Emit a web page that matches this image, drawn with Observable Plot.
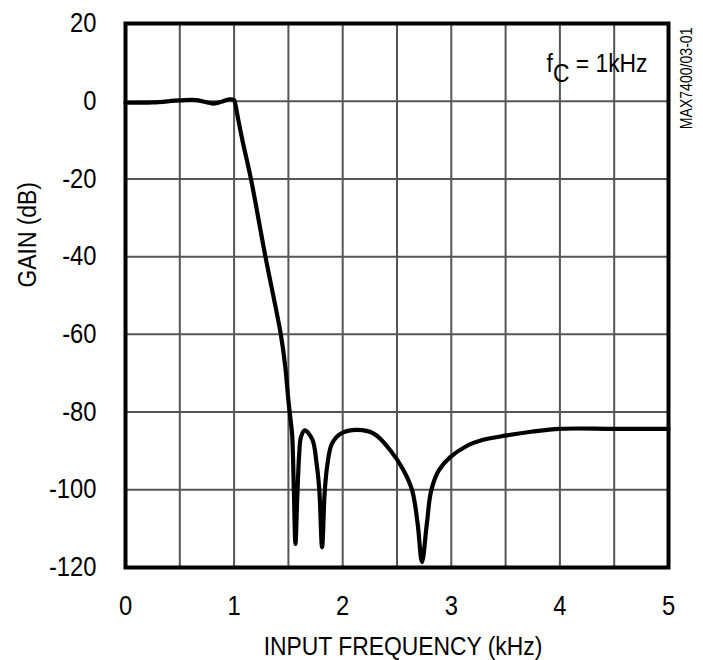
<!DOCTYPE html>
<html>
<head>
<meta charset="utf-8">
<script src="https://cdn.jsdelivr.net/npm/d3@7"></script>
<script src="https://cdn.jsdelivr.net/npm/@observablehq/plot@0.6"></script>
<style>
  html, body { margin: 0; padding: 0; background: #fff; }
  #chart { width: 703px; height: 660px; }
</style>
</head>
<body>
<div id="chart"></div>
<script>
// Frequency (kHz) and gain (dB)
const freqKHz = [0, 0.25, 0.5, 0.65, 0.81, 0.9, 0.96, 1.0, 1.01, 1.04, 1.08, 1.155, 1.29, 1.43, 1.47, 1.5, 1.52, 1.535, 1.55, 1.565, 1.58, 1.59, 1.60, 1.615, 1.65, 1.72, 1.76, 1.785, 1.81, 1.835, 1.86, 1.9, 1.98, 2.13, 2.29, 2.44, 2.56, 2.64, 2.69, 2.73, 2.775, 2.815, 2.885, 2.99, 3.15, 3.27, 3.51, 3.75, 4.0, 4.5, 5.0];
const gainDB = [-0.4, -0.3, 0.2, 0.3, -0.6, 0.0, 0.5, 0.3, -0.6, -5, -10.5, -20, -40.2, -60, -68, -77, -82, -86, -100, -113.9, -103, -96, -90.5, -86.5, -84.7, -87, -93.3, -100.2, -114.8, -100.2, -93.3, -88.2, -85.6, -84.6, -85.6, -89.9, -95, -100.2, -108.7, -118.6, -108.7, -100.2, -95, -91.6, -88.6, -87.3, -86, -85, -84.3, -84.3, -84.3];

const xTicks = [0, 1, 2, 3, 4, 5];
const yTicks = [20, 0, -20, -40, -60, -80, -100, -120];
const xGrid = [0.5, 1, 1.5, 2, 2.5, 3, 3.5, 4, 4.5];
const yGrid = [0, -20, -40, -60, -80, -100];
const xLabel = ["INPUT FREQUENCY (kHz)"];
const yLabel = ["GAIN (dB)"];
const annotation = [{x: 4.807, y: 9.6, base: "f", sub: "C", rest: " = 1kHz"}];
const sideNote = ["MAX7400/03-01"];

const data = freqKHz.map((f, i) => ({f, g: gainDB[i]}));
const FONT = "'Liberation Sans', Arial, sans-serif";

const chart = Plot.plot({
  width: 703,
  height: 660,
  marginLeft: 125,
  marginRight: 35,
  marginTop: 23,
  marginBottom: 93,
  style: {fontFamily: FONT, color: "#000", background: "#fff"},
  x: {domain: [0, 5]},
  y: {domain: [-120, 20]},
  marks: [
    Plot.ruleX(xGrid, {stroke: "#555", strokeWidth: 2}),
    Plot.ruleY(yGrid, {stroke: "#555", strokeWidth: 2}),
    Plot.axisX({ticks: xTicks, tickSize: 0, tickPadding: 28, tickFormat: d => String(d), fontSize: 27, label: null, className: "sx"}),
    Plot.axisY({ticks: yTicks, tickSize: 0, tickPadding: 29, tickFormat: d => String(d), fontSize: 27, label: null, className: "sx"}),
    Plot.line(data, {x: "f", y: "g", stroke: "#000", strokeWidth: 4.2, curve: "catmull-rom", strokeLinejoin: "round"}),
    Plot.frame({stroke: "#000", strokeWidth: 4}),
    Plot.text(xLabel, {frameAnchor: "bottom", text: d => d, lineAnchor: "top", dy: 69, dx: 6, fontSize: 26, fill: "#000", className: "sx"}),
    Plot.text(yLabel, {frameAnchor: "left", text: d => d, rotate: -90, lineAnchor: "middle", dx: -98, dy: -8, fontSize: 26, fill: "#000", className: "sx"}),
    Plot.text(annotation, {x: "x", y: "y", text: d => d.base + d.sub + d.rest, textAnchor: "end", lineAnchor: "middle", fontSize: 26, fill: "#000", className: "sx annot"}),
    Plot.text(sideNote, {frameAnchor: "top-right", text: d => d, rotate: -90, textAnchor: "end", lineAnchor: "middle", dx: 18, dy: 4, fontSize: 16, fill: "#000", className: "sx"})
  ]
});

// subscript "C" in the annotation
d3.select(chart).selectAll(".annot text").each(function(_, i) {
  const a = annotation[i];
  const t = d3.select(this);
  t.text(null);
  t.append("tspan").text(a.base);
  t.append("tspan").attr("dy", 10).text(a.sub);
  t.append("tspan").attr("dy", -10).text(a.rest);
});

// condensed lettering, like the narrow sans of the original
d3.select(chart).selectAll(".sx text").each(function() {
  const t = d3.select(this);
  const tr = t.attr("transform") || "";
  t.attr("transform", tr + " scale(0.88,1)");
  const x = t.attr("x");
  if (x != null && !isNaN(+x)) t.attr("x", +x / 0.88);
});

document.getElementById("chart").appendChild(chart);
</script>
</body>
</html>
